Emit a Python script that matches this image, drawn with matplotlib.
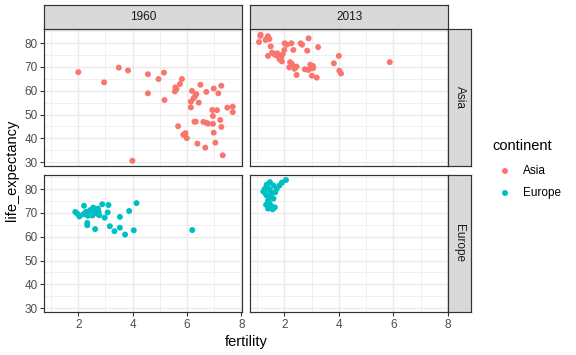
import numpy as np
import matplotlib.pyplot as plt

plt.rcParams['font.family'] = ['Liberation Sans', 'DejaVu Sans']

# ======================
# Data
# ======================
years = ["1960", "2013"]
continents = ["Asia", "Europe"]
colors = {"Asia": "#F8766D", "Europe": "#00BFC4"}

asia_1960_fert = [2.00, 2.95, 3.49, 3.83, 3.99, 4.56, 4.56, 4.95, 5.15, 5.17,
                  5.55, 5.57, 5.61, 5.74, 5.81, 5.67, 5.86, 5.94, 5.99, 6.14,
                  6.14, 6.18, 6.24, 6.30, 6.34, 6.43, 6.27, 6.32, 6.38, 6.49,
                  6.60, 6.67, 6.71, 6.71, 6.77, 6.95, 6.93, 6.95, 6.98, 6.98,
                  7.04, 7.10, 7.15, 7.22, 7.26, 7.26, 7.31, 7.48, 7.68, 7.68]
asia_1960_life = [67.8, 63.5, 69.7, 68.5, 30.6, 66.9, 58.9, 64.9, 67.6, 56.1,
                  59.7, 61.4, 60.7, 62.8, 64.9, 45.1, 41.5, 42.2, 40.1, 53.0,
                  55.4, 59.9, 56.8, 57.8, 58.6, 55.0, 47.0, 47.0, 37.8, 62.5,
                  46.9, 36.1, 59.5, 46.5, 46.2, 46.1, 51.9, 49.4, 42.4, 60.9,
                  38.2, 51.8, 58.9, 47.7, 62.1, 44.8, 32.9, 52.9, 53.3, 51.0]

asia_2013_fert = [1.13, 1.07, 1.31, 1.40, 1.45, 1.50, 1.40, 1.55, 1.74, 1.82,
                  1.91, 1.94, 2.01, 2.00, 2.09, 2.26, 2.33, 2.21, 2.18, 2.31,
                  2.37, 2.45, 2.45, 2.60, 2.65, 2.84, 2.89, 2.88, 3.00, 3.05,
                  3.06, 3.01, 3.19, 3.24, 3.82, 4.00, 4.02, 4.08, 5.87, 1.38,
                  1.12, 1.70, 1.62, 1.88, 2.28, 2.75, 2.95]
asia_2013_life = [83.5, 80.4, 81.3, 82.9, 81.7, 78.6, 74.6, 76.0, 75.7, 73.2,
                  72.3, 75.3, 79.9, 77.1, 79.3, 79.9, 77.1, 72.0, 69.8, 70.4,
                  69.2, 70.1, 66.6, 79.9, 79.3, 76.8, 82.0, 68.7, 69.4, 70.4,
                  69.5, 66.3, 65.5, 78.3, 71.5, 74.6, 68.4, 67.2, 72.0, 82.4,
                  83.0, 74.8, 75.4, 74.0, 71.2, 69.0, 70.9]

europe_1960_fert = [1.89, 1.96, 2.04, 2.21, 2.18, 2.28, 2.33, 2.33, 2.38, 2.43,
                    2.50, 2.55, 2.59, 2.62, 2.67, 2.70, 2.75, 2.77, 2.88, 2.97,
                    3.08, 3.11, 3.16, 3.33, 3.53, 3.53, 3.72, 3.87, 4.04, 4.14,
                    6.19, 2.45, 2.58, 2.65, 2.72, 2.35, 2.52]
europe_1960_life = [70.4, 69.7, 68.5, 73.0, 69.4, 70.4, 65.8, 64.8, 69.9, 71.1,
                    69.4, 72.2, 70.4, 63.2, 71.3, 69.7, 70.4, 69.0, 73.6, 68.0,
                    70.2, 73.3, 64.4, 62.3, 68.3, 63.8, 60.9, 70.8, 62.7, 74.1,
                    62.8, 70.6, 71.0, 70.2, 71.8, 68.8, 68.9]

europe_2013_fert = [2.06, 1.91, 1.82, 1.47, 1.35, 1.28, 1.23, 1.60, 1.72, 1.67,
                    1.47, 1.35, 1.47, 1.40, 1.33, 1.40, 1.57, 1.65, 1.50, 1.60,
                    1.52, 1.38, 1.30, 1.44]
europe_2013_life = [83.8, 82.7, 81.5, 82.9, 81.8, 80.1, 79.0, 81.5, 80.1, 78.7,
                    79.6, 77.3, 76.8, 75.1, 73.4, 71.8, 71.5, 72.3, 73.2, 76.0,
                    77.9, 80.8, 78.2, 74.2]

data = {
    ("Asia", "1960"): (asia_1960_fert, asia_1960_life),
    ("Asia", "2013"): (asia_2013_fert, asia_2013_life),
    ("Europe", "1960"): (europe_1960_fert, europe_1960_life),
    ("Europe", "2013"): (europe_2013_fert, europe_2013_life),
}

x_ticks = [2, 4, 6, 8]
y_ticks = [30, 40, 50, 60, 70, 80]

# ======================
# Layout (pixels, figure 576x355 @ 96 dpi)
# ======================
W, H = 576, 355
DPI = 96
fig = plt.figure(figsize=(W / DPI, H / DPI), dpi=DPI)

def px_axes(x0, y0, x1, y1):
    return fig.add_axes([x0 / W, 1 - y1 / H, (x1 - x0) / W, (y1 - y0) / H])

col_x = [(44.3, 242.0), (250.3, 448.3)]
row_y = [(29.0, 166.0), (175.0, 312.0)]
border = "#333333"
pt_size = 20

for r, cont in enumerate(continents):
    for c, yr in enumerate(years):
        x0, x1 = col_x[c]
        y0, y1 = row_y[r]
        ax = px_axes(x0, y0, x1, y1)
        ax.set_xlim(0.75, 8.02)
        ax.set_ylim(28.4, 85.9)
        ax.set_xticks(x_ticks)
        ax.set_yticks(y_ticks)
        ax.set_xticks([1, 3, 5, 7], minor=True)
        ax.set_yticks([35, 45, 55, 65, 75, 85], minor=True)
        ax.grid(which='major', color='#EBEBEB', lw=1.1)
        ax.grid(which='minor', color='#EBEBEB', lw=0.55)
        ax.set_axisbelow(True)
        for s in ax.spines.values():
            s.set_color(border)
            s.set_linewidth(0.9)
        ax.tick_params(which='minor', length=0)
        ax.tick_params(which='major', length=2.75, width=0.8, color=border,
                       labelsize=8.8, labelcolor='#4D4D4D', pad=2.2)
        if c > 0:
            ax.tick_params(axis='y', which='major', left=False, labelleft=False)
        if r == 0:
            ax.tick_params(axis='x', which='major', bottom=False, labelbottom=False)

        xs, ys = data[(cont, yr)]
        ax.scatter(xs, ys, s=pt_size, color=colors[cont], edgecolors='none', zorder=3)

        # top strips
        if r == 0:
            sx = px_axes(x0, 5.0, x1, 29.0)
            sx.set_facecolor('#D9D9D9')
            sx.set_xticks([]); sx.set_yticks([])
            for s in sx.spines.values():
                s.set_color(border)
                s.set_linewidth(0.9)
            sx.text(0.5, 0.5, yr, ha='center', va='center', fontsize=8.8,
                    color='#1A1A1A', transform=sx.transAxes)
        # right strips
        if c == 1:
            sy = px_axes(448.3, y0, 470.7, y1)
            sy.set_facecolor('#D9D9D9')
            sy.set_xticks([]); sy.set_yticks([])
            for s in sy.spines.values():
                s.set_color(border)
                s.set_linewidth(0.9)
            sy.text(0.5, 0.5, cont, ha='center', va='center', fontsize=8.8,
                    rotation=270, color='#1A1A1A', transform=sy.transAxes)

# axis titles
fig.text(246 / W, 1 - 342 / H, "fertility", ha='center', va='center', fontsize=11)
fig.text(12 / W, 1 - 170 / H, "life_expectancy", ha='center', va='center',
         rotation=90, fontsize=11)

# legend (drawn on an invisible overlay axes in pixel coords)
lg = fig.add_axes([0, 0, 1, 1], facecolor='none')
lg.set_xlim(0, W)
lg.set_ylim(H, 0)
lg.axis('off')
lg.text(492.3, 146, "continent", ha='left', va='center', fontsize=11)
for i, cont in enumerate(continents):
    yy = 171 + i * 22
    lg.scatter([505], [yy], s=pt_size, color=colors[cont], edgecolors='none')
    lg.text(523.3, yy, cont, ha='left', va='center', fontsize=8.8)

fig.savefig("out.png", dpi=DPI)
